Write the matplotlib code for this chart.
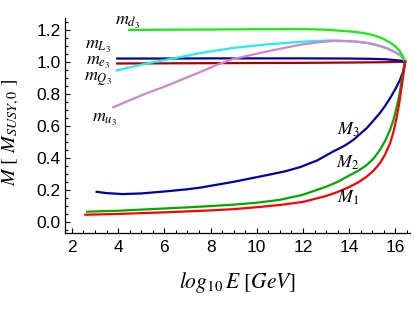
import matplotlib
matplotlib.use("Agg")
import matplotlib.pyplot as plt
from matplotlib.ticker import MultipleLocator

plt.rcParams['font.family'] = ['Liberation Sans', 'DejaVu Sans']
plt.rcParams['mathtext.fontset'] = 'stix'

# ---- data ----
md3_x = [4.48, 6.0, 8.0, 10.0, 11.87, 13.0, 14.03, 14.6, 15.04, 15.4, 15.77, 16.0, 16.2, 16.32, 16.42]
md3_y = [1.198, 1.2, 1.201, 1.203, 1.204, 1.2, 1.189, 1.18, 1.166, 1.148, 1.12, 1.095, 1.064, 1.035, 1.0]

mL3_x = [3.96, 6.0, 8.0, 10.0, 12.0, 14.0, 15.0, 15.6, 16.0, 16.25, 16.42]
mL3_y = [1.02, 1.02, 1.021, 1.021, 1.021, 1.02, 1.018, 1.015, 1.01, 1.006, 1.0]

me3_x = [3.96, 6.0, 8.0, 10.0, 12.0, 14.0, 15.5, 16.42]
me3_y = [0.989, 0.99, 0.991, 0.992, 0.993, 0.995, 0.997, 1.0]

mQ3_x = [3.94, 5.23, 6.37, 7.54, 8.97, 10.43, 11.87, 12.6, 13.3, 14.2, 14.76, 15.2, 15.62, 16.0, 16.2, 16.32, 16.42]
mQ3_y = [0.946, 0.989, 1.02, 1.054, 1.086, 1.108, 1.124, 1.13, 1.133, 1.128, 1.117, 1.104, 1.086, 1.06, 1.044, 1.025, 1.0]

mu3_x = [3.79, 5.0, 6.1, 7.54, 8.26, 8.97, 10.43, 11.87, 12.6, 13.3, 14.2, 14.76, 15.2, 15.62, 16.0, 16.2, 16.32, 16.42]
mu3_y = [0.716, 0.79, 0.85, 0.935, 0.98, 1.017, 1.064, 1.106, 1.12, 1.13, 1.127, 1.118, 1.104, 1.084, 1.058, 1.04, 1.022, 1.0]

M3_x = [3.07, 3.5, 4.2, 5.0, 6.0, 7.0, 7.54, 8.98, 10.43, 11.2, 11.87, 12.6, 13.31, 13.8, 14.18, 14.76, 15.0, 15.33, 15.55, 15.77, 16.0, 16.2, 16.32, 16.42]
M3_y = [0.188, 0.18, 0.174, 0.178, 0.19, 0.204, 0.214, 0.25, 0.292, 0.315, 0.342, 0.383, 0.44, 0.476, 0.512, 0.586, 0.625, 0.68, 0.724, 0.773, 0.83, 0.8875, 0.935, 1.0]

M2_x = [2.66, 4.0, 5.0, 6.0, 7.0, 8.0, 9.0, 10.0, 11.0, 12.0, 13.0, 13.5, 14.0, 14.4, 14.76, 15.05, 15.33, 15.55, 15.77, 15.92, 16.06, 16.17, 16.27, 16.35, 16.42]
M2_y = [0.064, 0.07, 0.077, 0.084, 0.091, 0.099, 0.108, 0.12, 0.138, 0.17, 0.22, 0.25, 0.29, 0.32, 0.356, 0.395, 0.45, 0.505, 0.575, 0.64, 0.72, 0.795, 0.8875, 0.945, 1.0]

M1_x = [2.58, 4.0, 5.0, 6.0, 7.0, 8.0, 9.0, 10.0, 11.0, 12.0, 13.0, 13.5, 14.0, 14.4, 14.76, 15.05, 15.33, 15.55, 15.77, 15.92, 16.06, 16.17, 16.27, 16.35, 16.42]
M1_y = [0.045, 0.05, 0.055, 0.06, 0.066, 0.072, 0.08, 0.092, 0.106, 0.125, 0.162, 0.187, 0.218, 0.248, 0.283, 0.32, 0.367, 0.42, 0.492, 0.565, 0.658, 0.745, 0.846, 0.925, 1.0]

x_ticks = [2, 4, 6, 8, 10, 12, 14, 16]
y_ticks = [0.0, 0.2, 0.4, 0.6, 0.8, 1.0, 1.2]

# ---- figure ----
fig = plt.figure(figsize=(4.15, 3.12), dpi=100)
ax = fig.add_axes([65/415, 1-233/312, (410-65)/415, (233-18)/312])

lw = 1.6
ax.plot(me3_x, me3_y, color='#aa0000', lw=lw)
ax.plot(mL3_x, mL3_y, color='#0000aa', lw=lw)
ax.plot(mQ3_x, mQ3_y, color='#22eeee', lw=lw)
ax.plot(mu3_x, mu3_y, color='#cc88cc', lw=lw)
ax.plot(md3_x, md3_y, color='#11ee11', lw=lw)
ax.plot(M3_x, M3_y, color='#0000aa', lw=lw)
ax.plot(M2_x, M2_y, color='#00aa00', lw=lw)
ax.plot(M1_x, M1_y, color='#ff0000', lw=lw)

lab_kw = dict(fontsize=13, ha='center', va='center')
ax.text(4.42, 1.244, r'$m_{d_3}$', **lab_kw)
ax.text(3.13, 1.094, r'$m_{L_3}$', **lab_kw)
ax.text(3.13, 0.994, r'$m_{e_3}$', **lab_kw)
ax.text(3.13, 0.894, r'$m_{Q_3}$', **lab_kw)
ax.text(3.43, 0.6375, r'$m_{u_3}$', **lab_kw)
ax.text(13.95, 0.575, r'$M_{\mathit{3}}$', **lab_kw)
ax.text(13.95, 0.369, r'$M_{\mathit{2}}$', **lab_kw)
ax.text(13.95, 0.15, r'$M_{\mathit{1}}$', **lab_kw)

ax.set_xlim(1.70, 16.63)
ax.set_ylim(-0.069, 1.273)
ax.set_xticks(x_ticks)
ax.set_yticks(y_ticks)
ax.set_yticklabels([f'{v:.1f}' for v in y_ticks])
ax.xaxis.set_minor_locator(MultipleLocator(0.5))
ax.yaxis.set_minor_locator(MultipleLocator(0.05))
ax.tick_params(which='both', direction='in', width=0.8, labelsize=12.5)
ax.tick_params(which='major', length=3.5)
ax.tick_params(which='minor', length=2)
ax.tick_params(axis='x', pad=5)
ax.tick_params(axis='y', pad=3)
for s in ['top', 'right']:
    ax.spines[s].set_visible(False)
for s in ['left', 'bottom']:
    ax.spines[s].set_linewidth(0.9)

ax.set_xlabel(r'$log_{\mathit{10}}\,E\ [GeV]$', fontsize=15.5)
ax.xaxis.set_label_coords(0.5, -0.17)
ax.set_ylabel(r'$M\ [\ M_{SUSY,\mathit{0}}\ ]$', fontsize=14.5)
ax.yaxis.set_label_coords(-0.125, 0.47)

fig.savefig('out.png', dpi=100)
